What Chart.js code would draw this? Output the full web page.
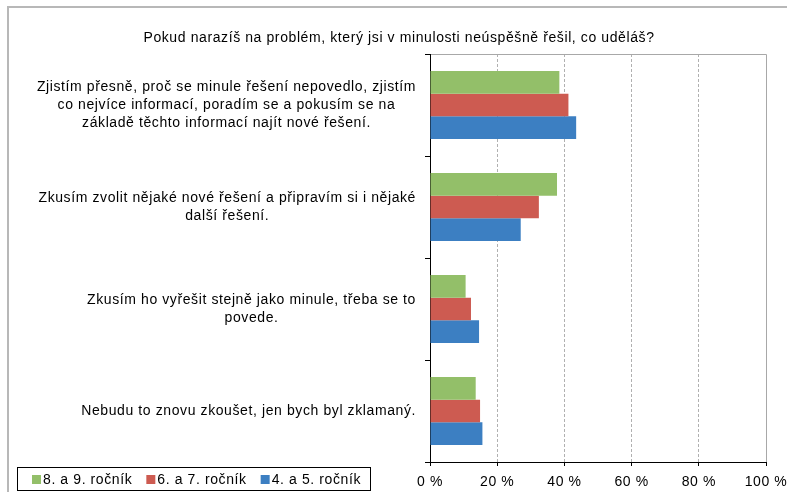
<!DOCTYPE html>
<html><head><meta charset="utf-8">
<script src="https://cdn.jsdelivr.net/npm/chart.js@4/dist/chart.umd.min.js"></script>
<style>html,body{margin:0;padding:0;background:#fff}#wrap{width:787px;height:492px;position:relative}</style>
</head><body><div id="wrap"><canvas id="c" width="787" height="492"></canvas></div>
<script>
const chartTitle = "Pokud narazíš na problém, který jsi v minulosti neúspěšně řešil, co uděláš?";
const categories = [
  ["Zjistím přesně, proč se minule řešení nepovedlo, zjistím", "co nejvíce informací, poradím se a pokusím se na", "základě těchto informací najít nové řešení."],
  ["Zkusím zvolit nějaké nové řešení a připravím si i nějaké", "další řešení."],
  ["Zkusím ho vyřešit stejně jako minule, třeba se to", "povede."],
  ["Nebudu to znovu zkoušet, jen bych byl zklamaný."]
];
const seriesNames = ["8. a 9. ročník", "6. a 7. ročník", "4. a 5. ročník"];
const grade89 = [38.5, 37.8, 10.6, 13.6];
const grade67 = [41.2, 32.4, 12.2, 14.9];
const grade45 = [43.5, 27.0, 14.6, 15.6];
const xTicks = [0, 20, 40, 60, 80, 100];

const colors = ["#93BF69", "#CD5B51", "#3C7FC2"];
const FONT = "'Liberation Sans', Arial, sans-serif";
const SPACING = '0.6px';

const decor = {
  id: 'decor',
  beforeDraw(chart) {
    const ctx = chart.ctx;
    ctx.save();
    ctx.fillStyle = '#fff';
    ctx.fillRect(0, 0, chart.width, chart.height);
    ctx.strokeStyle = '#b8b8b8';
    ctx.lineWidth = 2;
    ctx.beginPath();
    ctx.moveTo(8, chart.height + 5);
    ctx.lineTo(8, 7);
    ctx.lineTo(chart.width + 5, 7);
    ctx.stroke();
    ctx.restore();
    ctx.letterSpacing = SPACING;
  },
  beforeDatasetsDraw(chart) {
    const ctx = chart.ctx, a = chart.chartArea;
    ctx.save();
    ctx.strokeStyle = '#a8a8a8';
    ctx.lineWidth = 1;
    ctx.beginPath();
    ctx.moveTo(a.left + 1, Math.round(a.top) + 0.5);
    ctx.lineTo(Math.round(a.right) + 0.5, Math.round(a.top) + 0.5);
    ctx.lineTo(Math.round(a.right) + 0.5, a.bottom);
    ctx.stroke();
    ctx.restore();
  },
  afterDraw(chart) {
    const ctx = chart.ctx;
    ctx.save();
    ctx.letterSpacing = SPACING;
    // title
    ctx.fillStyle = '#000';
    ctx.font = "14px " + FONT;
    ctx.textAlign = 'center';
    ctx.textBaseline = 'middle';
    ctx.fillText(chartTitle, 399, 38);
    // category labels
    const ys = chart.scales.y;
    ctx.font = "14px " + FONT;
    const lh = 18, rightEdge = 416;
    categories.forEach((lines, i) => {
      const yc = ys.getPixelForValue(i);
      const widest = Math.max(...lines.map(l => ctx.measureText(l).width));
      const xc = rightEdge - widest / 2;
      const y0 = yc - (lines.length - 1) * lh / 2;
      lines.forEach((l, j) => ctx.fillText(l, xc, y0 + j * lh));
    });
    // legend
    ctx.strokeStyle = '#000';
    ctx.lineWidth = 1;
    ctx.strokeRect(17.5, 467.5, 353, 23);
    ctx.font = "14px " + FONT;
    ctx.textAlign = 'left';
    let x = 32;
    chart.data.datasets.forEach((ds) => {
      ctx.fillStyle = ds.backgroundColor;
      ctx.fillRect(x, 475, 9, 9);
      ctx.fillStyle = '#000';
      ctx.fillText(ds.label, x + 11, 480);
      x += 11 + ctx.measureText(ds.label).width + 14;
    });
    ctx.restore();
  }
};

new Chart(document.getElementById('c'), {
  type: 'bar',
  data: {
    labels: categories,
    datasets: [
      { label: seriesNames[0], data: grade89, backgroundColor: colors[0] },
      { label: seriesNames[1], data: grade67, backgroundColor: colors[1] },
      { label: seriesNames[2], data: grade45, backgroundColor: colors[2] }
    ]
  },
  options: {
    indexAxis: 'y',
    responsive: false,
    animation: false,
    devicePixelRatio: 1,
    layout: { padding: { top: 54, right: 21, left: 0, bottom: 0 } },
    datasets: { bar: { categoryPercentage: 0.667, barPercentage: 1, borderWidth: 0 } },
    plugins: { legend: { display: false }, tooltip: { enabled: false }, title: { display: false } },
    scales: {
      y: {
        type: 'category',
        afterFit: s => { s.width = 430; },
        ticks: { display: false },
        grid: { offset: true, drawOnChartArea: false, drawTicks: true, tickLength: 5, tickColor: '#000' },
        border: { color: '#000', width: 1 }
      },
      x: {
        min: 0, max: 100,
        afterFit: s => { s.height = 30; s.paddingLeft = 0; s.paddingRight = 0; },
        afterBuildTicks: s => { s.ticks = xTicks.map(v => ({ value: v })); },
        ticks: {
          callback: v => v + ' %',
          color: '#000',
          font: { family: FONT, size: 14 },
          padding: 8,
          maxRotation: 0
        },
        grid: {
          color: c => (c.tick && (c.tick.value === 0 || c.tick.value === 100)) ? 'rgba(0,0,0,0)' : '#b0b0b0',
          drawTicks: true, tickLength: 4, tickColor: '#000'
        },
        border: { color: '#000', width: 1, dash: [3, 2] }
      }
    }
  },
  plugins: [decor]
});
</script>
</body></html>
